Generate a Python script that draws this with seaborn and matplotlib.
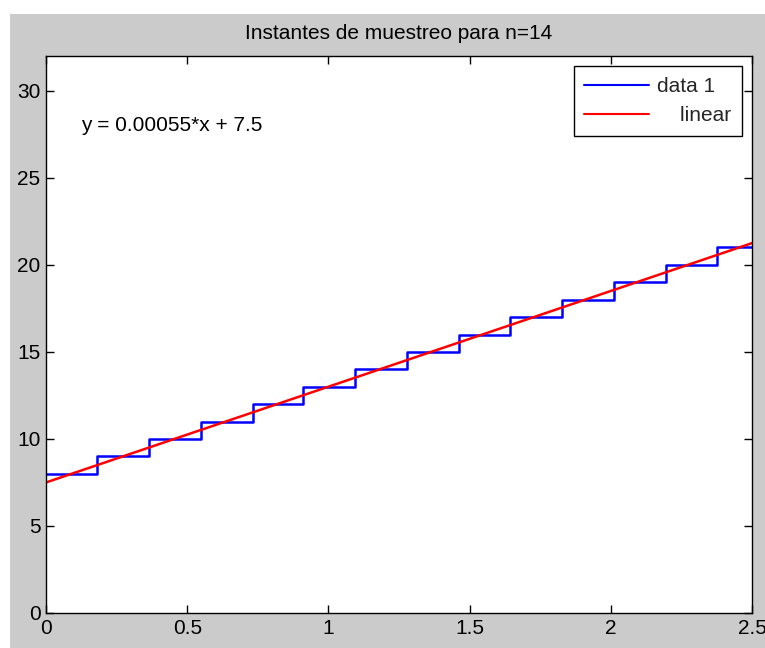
import matplotlib
matplotlib.use("Agg")
import matplotlib.pyplot as plt
from matplotlib.patches import Rectangle
from matplotlib.ticker import FuncFormatter
import numpy as np
import pandas as pd
import seaborn as sns

# Quantized sample levels and the instants at which each level starts
levels = [8, 9, 10, 11, 12, 13, 14, 15, 16, 17, 18, 19, 20, 21]
instants = [0, 1795, 3647, 5500, 7330, 9110, 10950, 12770, 14635,
            16430, 18270, 20110, 21940, 23750]

# Linear fit coefficients shown on the plot
slope = 0.00055
intercept = 7.5

x_max = 25000
y_max = 32
x_ticks = [0, 5000, 10000, 15000, 20000, 25000]
y_ticks = [0, 5, 10, 15, 20, 25, 30]

title = "Instantes de muestreo para n=14"
eq_text = "y = 0.00055*x + 7.5"

sns.set_style("white")
plt.rcParams["font.family"] = ["Liberation Sans", "DejaVu Sans"]

fig = plt.figure(figsize=(7.65, 6.48), dpi=100, facecolor="white")
# gray figure panel (leaves a thin white margin at top and left)
fig.patches.append(Rectangle((10 / 765, 0), 1, 1 - 14 / 648,
                             transform=fig.transFigure, facecolor="#cbcbcb",
                             edgecolor="none", zorder=-10))

ax = fig.add_axes([46 / 765, 35 / 648, 706 / 765, 557 / 648])
ax.set_facecolor("white")

# staircase: hold the last level until the right edge of the axes
stairs = pd.DataFrame({"t": instants + [x_max], "v": levels + [levels[-1]]})
sns.lineplot(data=stairs, x="t", y="v", ax=ax, drawstyle="steps-post",
             color="#0000ff", linewidth=1.8, label="data 1", sort=False,
             estimator=None)

fit_x = np.array([0, x_max])
fit = pd.DataFrame({"t": fit_x, "v": slope * fit_x + intercept})
sns.lineplot(data=fit, x="t", y="v", ax=ax, color="#ff0000", linewidth=1.8,
             label="    linear", sort=False, estimator=None)

ax.set_xlim(0, x_max)
ax.set_ylim(0, y_max)
ax.set_xticks(x_ticks)
ax.set_yticks(y_ticks)
ax.xaxis.set_major_formatter(FuncFormatter(lambda v, p: f"{v / 1e4:g}"))
ax.set_xlabel("")
ax.set_ylabel("")

for s in ax.spines.values():
    s.set_visible(True)
    s.set_color("black")
    s.set_linewidth(1.0)

ax.tick_params(axis="both", which="major", direction="in", length=6,
               width=1.0, color="black", labelsize=15, labelcolor="black",
               top=True, right=True, bottom=True, left=True, pad=4)

ax.set_title(title, fontsize=15, color="black", pad=12)

ax.text(1240, 28.0, eq_text, fontsize=15, color="black", va="center",
        ha="left")

leg = ax.legend(loc="upper right", fontsize=15, frameon=True, fancybox=False,
                shadow=False, framealpha=1, edgecolor="black",
                handlelength=3.1, handletextpad=0.4, labelspacing=0.5,
                borderpad=0.5, borderaxespad=0.5)
leg.get_frame().set_linewidth(1.0)
for line in leg.get_lines():
    line.set_linewidth(1.5)

fig.savefig("out.png", dpi=100, facecolor=fig.get_facecolor())
